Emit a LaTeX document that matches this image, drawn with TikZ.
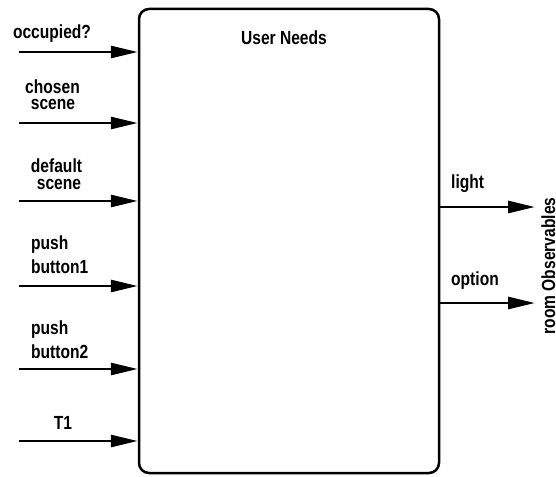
\documentclass[tikz,border=0pt]{standalone}
\usepackage{fontspec}
\setmainfont[FakeStretch=0.82]{Liberation Sans}
\usetikzlibrary{arrows.meta}
\begin{document}
\begin{tikzpicture}[x=1pt,y=-1pt,
  lbl/.style={font=\fontsize{19}{16}\selectfont\bfseries, inner sep=0pt},
  arr/.style={line width=2.8pt, -{Triangle[length=27pt,width=12pt]}},
  boxst/.style={draw, line width=2.5pt, rounded corners=10pt, minimum width=300pt, minimum height=464pt, inner sep=0pt}]
\useasboundingbox (0,0) rectangle (556,476);
\node[boxst] (box) at (289,241) {};
\node[lbl, anchor=base] (title) at (284,45) {User Needs};
% inputs
\coordinate (i1) at (19,52);
\coordinate (i2) at (19,123);
\coordinate (i3) at (19,201);
\coordinate (i4) at (19,286);
\coordinate (i5) at (19,369);
\coordinate (i6) at (19,441);
\foreach \c in {i1,i2,i3,i4,i5,i6} \draw[arr] (\c) -- (\c -| box.west);
\node[lbl, anchor=base] (l1) at (52,39) {occupied?};
\node[lbl, anchor=base] (l2a) at (52.5,94) {chosen};
\node[lbl, anchor=base] (l2b) at (53,110) {scene};
\node[lbl, anchor=base] (l3a) at (56.5,172) {default};
\node[lbl, anchor=base] (l3b) at (59,189) {scene};
\node[lbl, anchor=base west] (l4a) at (31,249) {push};
\node[lbl, anchor=base west] (l4b) at (31,273) {button1};
\node[lbl, anchor=base west] (l5a) at (31,334) {push};
\node[lbl, anchor=base west] (l5b) at (31,358) {button2};
\node[lbl, anchor=base] (l6) at (63,429) {T1};
% outputs
\coordinate (o1) at (535,207);
\coordinate (o2) at (535,303);
\draw[arr] (o1 -| box.east) -- (o1);
\draw[arr] (o2 -| box.east) -- (o2);
\node[lbl, anchor=base west] (ol1) at (451,188) {light};
\node[lbl, anchor=base west] (ol2) at (451,285) {option};
\node[lbl, anchor=base, rotate=90] (room) at (555,266) {room Observables};
\end{tikzpicture}
\end{document}
